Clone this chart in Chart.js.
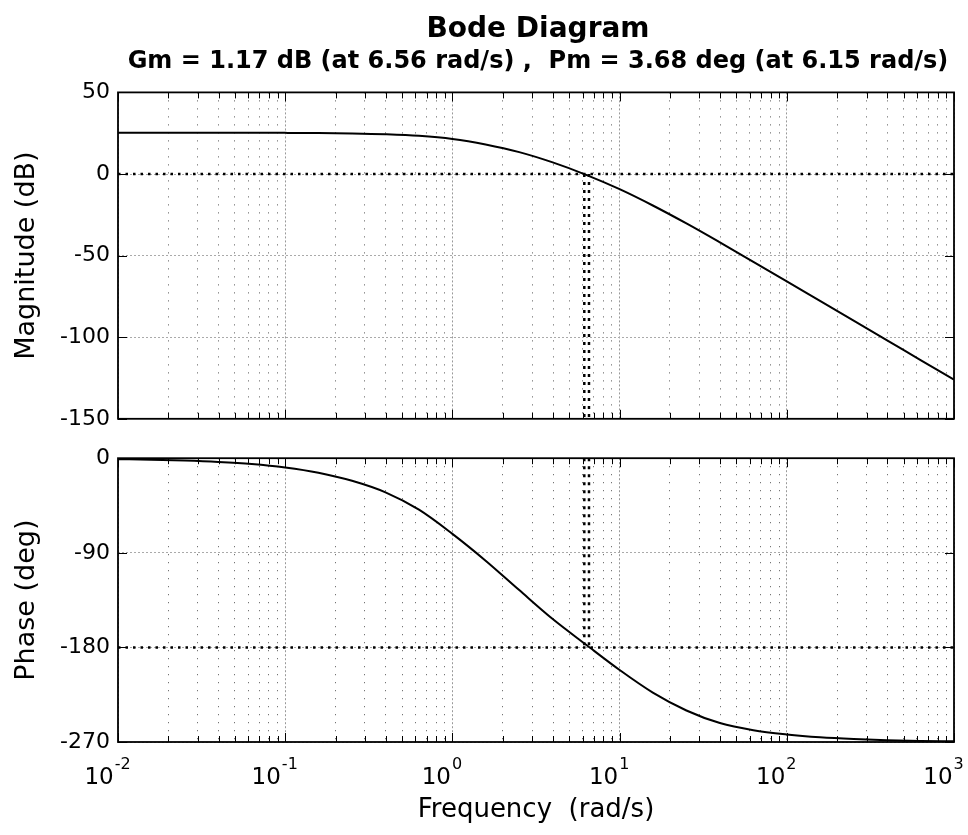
<!DOCTYPE html>
<html>
<head>
<meta charset="utf-8">
<title>Bode Diagram</title>
<script src="https://cdn.jsdelivr.net/npm/chart.js@4.4.1/dist/chart.umd.min.js"></script>
<style>
  html, body { margin: 0; padding: 0; background: #fff; overflow: hidden; }
  #wrap { position: relative; width: 968px; height: 835px; overflow: hidden; }
  #mag { position: absolute; left: 0; top: 0; }
  #phase { position: absolute; left: 0; top: 437px; }
</style>
</head>
<body>
<div id="wrap">
  <canvas id="mag" width="1076" height="440"></canvas>
  <canvas id="phase" width="1076" height="398"></canvas>
</div>
<script>
// values (5 points per decade)
const freq = [0.01, 0.0158, 0.0251, 0.0398, 0.0631, 0.1, 0.158, 0.251, 0.398, 0.631,
  1, 1.58, 2.51, 3.98, 6.31, 10, 15.8, 25.1, 39.8, 63.1, 100, 158, 251, 398, 631, 1000];
const magDb = [25.3, 25.3, 25.3, 25.3, 25.25, 25.2, 25.1, 24.85, 24.35, 23.4,
  21.5, 18.1, 13.4, 7.1, -0.5, -9.3, -19.3, -30.3, -41.9, -53.8, -65.8, -77.8, -89.9, -101.9, -114, -126];
const phaseDeg = [-0.9, -1.4, -2.2, -3.5, -5.5, -8.8, -13.8, -21.5, -32.5, -49,
  -72, -97.5, -125.5, -153, -177.5, -201.5, -223, -240, -252, -258.8, -262.8, -265.5, -267.2, -268.3, -269, -269.4];

// crossover frequencies from the title (Pm at 6.15, Gm at 6.56)
const marginFreqs = [6.15, 6.56];
const decadeExponents = [-2, -1, 0, 1, 2, 3];
const magTicks = [-150, -100, -50, 0, 50];
const phaseTicks = [-270, -180, -90, 0];

const FONT = 'DejaVu Sans';

const majorTicks = decadeExponents.map(e => 10 ** e);
const minorTicks = [];
decadeExponents.slice(0, -1).forEach(e => {
  for (let m = 2; m <= 9; m++) minorTicks.push(m * 10 ** e);
});

const framePlugin = {
  id: 'frame',
  afterDatasetsDraw(chart) {
    const { ctx, chartArea: a, scales } = chart;
    ctx.save();
    ctx.strokeStyle = '#000';
    ctx.lineWidth = 1;
    ctx.beginPath();
    majorTicks.concat(minorTicks).forEach(v => {
      const px = Math.round(scales.x.getPixelForValue(v)) + 0.5;
      const len = majorTicks.includes(v) ? 9 : 6;
      ctx.moveTo(px, a.top); ctx.lineTo(px, a.top + len);
      ctx.moveTo(px, a.bottom); ctx.lineTo(px, a.bottom - len);
    });
    scales.y.ticks.forEach(t => {
      const py = Math.round(scales.y.getPixelForValue(t.value)) + 0.5;
      ctx.moveTo(a.left, py); ctx.lineTo(a.left + 9, py);
      ctx.moveTo(a.right, py); ctx.lineTo(a.right - 9, py);
    });
    ctx.stroke();
    ctx.lineWidth = 1.8;
    ctx.strokeRect(a.left, a.top, a.right - a.left, a.bottom - a.top);
    ctx.restore();
  }
};

// 10^n labels under the phase plot
const decadeLabels = {
  id: 'decadeLabels',
  afterDraw(chart) {
    const { ctx, scales } = chart;
    ctx.save();
    ctx.fillStyle = '#000';
    ctx.textBaseline = 'middle';
    ctx.textAlign = 'left';
    decadeExponents.forEach(e => {
      const px = scales.x.getPixelForValue(10 ** e);
      ctx.font = '23px ' + FONT;
      const wb = ctx.measureText('10').width;
      ctx.font = '16px ' + FONT;
      const we = ctx.measureText(String(e)).width;
      const left = px - (wb + we) / 2 - 11;
      ctx.font = '23px ' + FONT;
      ctx.fillText('10', left, 341);
      ctx.font = '16px ' + FONT;
      ctx.fillText(String(e), left + wb + 1, 328);
    });
    ctx.restore();
  }
};

function xScales(title) {
  return {
    x: {
      type: 'logarithmic', min: 0.01, max: 1000, position: 'bottom',
      afterBuildTicks: s => { s.ticks = minorTicks.map(v => ({ value: v })); },
      ticks: { display: false },
      grid: { color: '#555', lineWidth: 1, drawTicks: false },
      border: { display: false, dash: [1, 7] },
      title: title ? {
        display: true, text: title, color: '#000',
        font: { family: FONT, size: 26, lineHeight: 1.2 }, padding: { top: 0, bottom: 9 }
      } : { display: false },
      afterFit: s => { s.height = title ? 93 : 14; }
    },
    xMajor: {
      type: 'logarithmic', min: 0.01, max: 1000, position: 'bottom',
      afterBuildTicks: s => { s.ticks = majorTicks.map(v => ({ value: v })); },
      ticks: { display: false },
      grid: { color: '#999', lineWidth: 1, drawTicks: false },
      border: { display: false, dash: [2, 2] },
      afterFit: s => { s.height = 0; }
    }
  };
}

function yScale(min, max, tickValues, title) {
  return {
    min: min, max: max,
    afterBuildTicks: s => { s.ticks = tickValues.map(v => ({ value: v })); },
    ticks: { color: '#000', padding: 8, font: { family: FONT, size: 22 } },
    grid: { color: '#aaa', lineWidth: 1, drawTicks: false },
    border: { display: false, dash: [2, 2] },
    title: {
      display: true, text: title, color: '#000',
      font: { family: FONT, size: 27, lineHeight: 1.2 }, padding: { top: 11, bottom: 0 }
    },
    afterFit: s => { s.width = 118; }
  };
}

// empty right-hand box so the chart area ends at x=954
const rightPad = {
  position: 'right', display: true,
  ticks: { display: false }, grid: { display: false }, border: { display: false },
  afterFit: s => { s.width = 122; }
};

function curve(ys) {
  return {
    data: freq.map((f, i) => ({ x: f, y: ys[i] })),
    borderColor: '#000', borderWidth: 2, pointRadius: 0,
    cubicInterpolationMode: 'monotone'
  };
}

function dotted(points, width, dash) {
  return {
    data: points, borderColor: '#000', borderWidth: width,
    borderDash: dash, pointRadius: 0, tension: 0
  };
}

const magDatasets = [
  curve(magDb),
  dotted([{ x: 0.01, y: 0 }, { x: 1000, y: 0 }], 2.5, [2.5, 5])
].concat(marginFreqs.map(f => dotted([{ x: f, y: 0 }, { x: f, y: -150 }], 2.5, [3, 5])));

const phaseDatasets = [
  curve(phaseDeg),
  dotted([{ x: 0.01, y: -180 }, { x: 1000, y: -180 }], 2.5, [2.5, 5])
].concat(marginFreqs.map(f => dotted([{ x: f, y: 0 }, { x: f, y: -180 }], 2.5, [3, 5])));

const common = {
  responsive: false,
  animation: false,
  events: []
};

new Chart(document.getElementById('mag'), {
  type: 'line',
  data: { datasets: magDatasets },
  options: Object.assign({}, common, {
    layout: { padding: 0 },
    plugins: {
      legend: { display: false },
      tooltip: { enabled: false },
      title: {
        display: true, text: 'Bode Diagram', color: '#000',
        font: { family: FONT, size: 28, weight: 'bold', lineHeight: 1.2 },
        padding: { top: 13, bottom: 1 }
      },
      subtitle: {
        display: true, text: 'Gm = 1.17 dB (at 6.56 rad/s) ,  Pm = 3.68 deg (at 6.15 rad/s)',
        color: '#000',
        font: { family: FONT, size: 24, weight: 'bold', lineHeight: 1.2 },
        padding: { top: 0, bottom: 16 }
      }
    },
    scales: Object.assign(xScales(null), {
      y: yScale(-150, 50, magTicks, 'Magnitude (dB)'),
      yPad: rightPad
    })
  }),
  plugins: [framePlugin]
});

new Chart(document.getElementById('phase'), {
  type: 'line',
  data: { datasets: phaseDatasets },
  options: Object.assign({}, common, {
    layout: { padding: { top: 14, left: 0, right: 0, bottom: 0 } },
    plugins: {
      legend: { display: false },
      tooltip: { enabled: false }
    },
    scales: Object.assign(xScales('Frequency  (rad/s)'), {
      y: yScale(-270, 0, phaseTicks, 'Phase (deg)'),
      yPad: rightPad
    })
  }),
  plugins: [framePlugin, decadeLabels]
});
</script>
</body>
</html>
